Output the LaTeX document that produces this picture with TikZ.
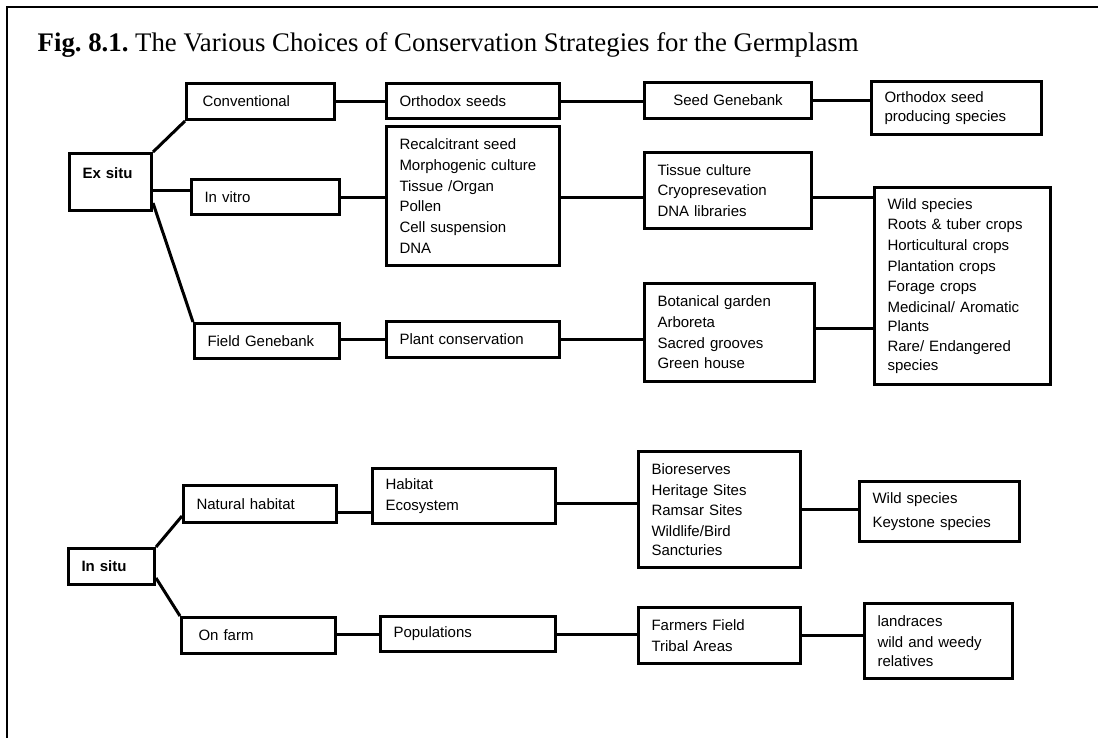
\documentclass[tikz,border=0pt]{standalone}
\usepackage{fontspec}
\setmainfont{Liberation Serif}
\newfontfamily\arialfam{Liberation Sans}
\newcommand\boxfont{\arialfam\fontsize{15}{18.7}\selectfont}
\frenchspacing
\begin{document}
\begin{tikzpicture}[x=1pt,y=-1pt,
  box/.style={draw, line width=3, anchor=north west, inner xsep=13, inner ysep=0, align=left, font=\boxfont},
  conn/.style={line width=3},
  frame/.style={line width=2}]
\useasboundingbox (0,0) rectangle (1098,737);
\fill[white] (0,0) rectangle (1098,737);
\draw[frame] (7,740) -- (7,6.5) -- (1100,6.5);
\node[anchor=base west, inner sep=0] (title) at (37.5,51)
  {\fontsize{26.8}{30}\selectfont\textbf{Fig. 8.1.} The Various Choices of Conservation Strategies for the Germplasm};
% column 0
\node[box, text width=56, text height=25, text depth=32, font=\boxfont\bfseries] (ex) at (68,152) {Ex situ};
\node[box, text width=60, minimum height=36, font=\boxfont\bfseries] (is) at (67,547) {In situ};
% column 1
\node[box, text width=122, minimum height=36] (conv) at (185,82) {\hspace*{3pt}Conventional};
\node[box, text width=122, minimum height=35] (iv) at (190,178) {In vitro};
\node[box, text width=119, minimum height=35] (fg) at (193,322) {Field Genebank};
\node[box, text width=127, minimum height=37] (nh) at (182,484) {Natural habitat};
\node[box, text width=128, minimum height=36] (of) at (180,616) {\hspace*{4pt}On farm};
% column 2
\node[box, text width=147, minimum height=35] (os) at (385,82) {Orthodox seeds};
\node[box, text width=147, minimum height=139] (rec) at (385,125)
  {Recalcitrant seed\\[2pt] Morphogenic culture\\[2pt] Tissue /Organ\\[2pt] Pollen\\[2pt] Cell suspension\\[2pt] DNA};
\node[box, text width=147, minimum height=36] (pc) at (385,320) {Plant conservation};
\node[box, text width=157, minimum height=55] (hab) at (371,467) {Habitat\\[2pt] Ecosystem};
\node[box, text width=149, minimum height=35] (pop) at (379,615) {Populations};
% column 3
\node[box, text width=141, minimum height=36, align=center] (sg) at (643,81) {Seed Genebank};
\node[box, text width=141, minimum height=76] (tc) at (643,151) {Tissue culture\\[2pt] Cryopresevation\\[2pt] DNA libraries};
\node[box, text width=144, minimum height=98] (bot) at (643,282) {Botanical garden\\[2pt] Arboreta\\[2pt] Sacred grooves\\[2pt] Green house};
\node[box, text width=136, minimum height=116] (bio) at (637,450) {Bioreserves\\[2pt] Heritage Sites\\[2pt] Ramsar Sites\\[2pt] Wildlife/Bird\\ Sancturies};
\node[box, text width=136, minimum height=56] (farm) at (637,606) {Farmers Field\\[2pt] Tribal Areas};
% column 4
\node[box, text width=144, minimum height=53] (op) at (870,80) {Orthodox seed\\ producing species};
\node[box, text width=150, minimum height=197] (wb) at (873,186)
  {Wild species\\[2pt] Roots \& tuber crops\\[2pt] Horticultural crops\\[2pt] Plantation crops\\[2pt] Forage crops\\[2pt] Medicinal/ Aromatic\\ Plants\\[2pt] Rare/ Endangered\\ species};
\node[box, text width=134, minimum height=60] (wk) at (858,480) {Wild species\\[5pt] Keystone species};
\node[box, text width=122, minimum height=75] (land) at (863,602) {landraces\\[2pt] wild and weedy\\ relatives};
% connectors: ex situ
\draw[conn] (ex.north east) -- (conv.south west);
\coordinate (c1) at ([yshift=7]iv.west);
\draw[conn] (ex.east |- c1) -- (c1);
\draw[conn] ([yshift=9]ex.south east) -- (fg.north west);
\draw[conn] (conv.east) -- (conv.east -| os.west);
\draw[conn] (os.east) -- (os.east -| sg.west);
\draw[conn] (sg.east) -- (sg.east -| op.west);
\draw[conn] (iv.east) -- (iv.east -| rec.west);
\draw[conn] (iv.east -| rec.east) -- (iv.east -| tc.west);
\draw[conn] (iv.east -| tc.east) -- (iv.east -| wb.west);
\draw[conn] (pc.west -| fg.east) -- (pc.west);
\draw[conn] (pc.east) -- (pc.east -| bot.west);
\coordinate (c2) at ([yshift=4.5]bot.east);
\draw[conn] (c2) -- (c2 -| wb.west);
% connectors: in situ
\draw[conn] (is.north east) -- ([yshift=8]nh.south west);
\draw[conn] ([yshift=8]is.south east) -- (of.north west);
\coordinate (c3) at ([yshift=-8.5]nh.east);
\draw[conn] (c3) -- (c3 -| hab.west);
\coordinate (c4) at ([yshift=-7.5]hab.east);
\draw[conn] (c4) -- (c4 -| bio.west);
\draw[conn] (bio.east) -- (bio.east -| wk.west);
\draw[conn] (pop.west -| of.east) -- (pop.west);
\draw[conn] (pop.east) -- (pop.east -| farm.west);
\draw[conn] (farm.east) -- (farm.east -| land.west);
\end{tikzpicture}
\end{document}
